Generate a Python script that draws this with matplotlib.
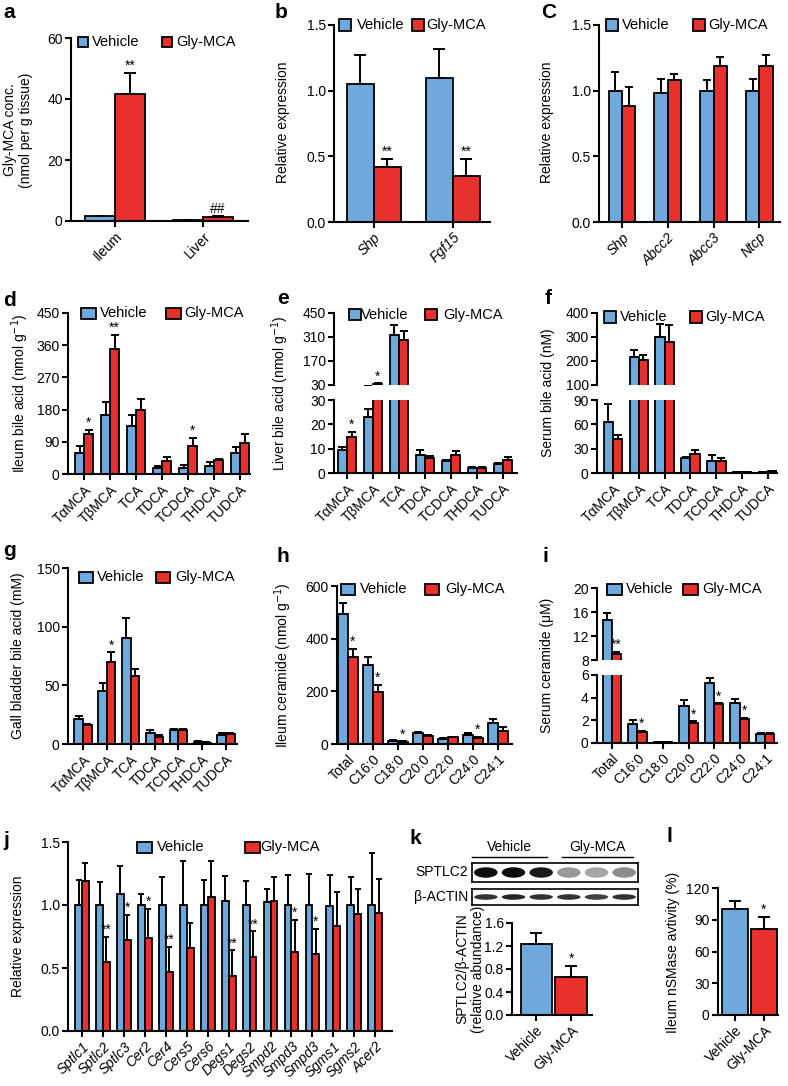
import numpy as np
import matplotlib.pyplot as plt
from matplotlib.patches import Rectangle, Ellipse

# ---------------- data ----------------
a_groups = ['Ileum', 'Liver']
a_veh = [1.5, 0.2]
a_veh_err = [0.3, 0.1]
a_gly = [41.5, 1.2]
a_gly_err = [7.0, 0.4]
a_sig = ['**', '##']

b_genes = ['Shp', 'Fgf15']
b_veh = [1.05, 1.10]
b_veh_err = [0.22, 0.22]
b_gly = [0.42, 0.35]
b_gly_err = [0.06, 0.13]
b_sig = ['**', '**']

c_genes = ['Shp', 'Abcc2', 'Abcc3', 'Ntcp']
c_veh = [1.0, 0.98, 1.0, 1.0]
c_veh_err = [0.14, 0.11, 0.08, 0.09]
c_gly = [0.88, 1.08, 1.19, 1.19]
c_gly_err = [0.15, 0.05, 0.07, 0.08]
c_sig = ['', '', '', '']

bile_acids = ['TαMCA', 'TβMCA', 'TCA', 'TDCA', 'TCDCA', 'THDCA', 'TUDCA']

d_veh = [60, 165, 135, 18, 18, 22, 60]
d_veh_err = [18, 35, 30, 5, 6, 12, 15]
d_gly = [113, 350, 178, 35, 78, 38, 87]
d_gly_err = [10, 38, 33, 12, 22, 4, 25]
d_sig = ['*', '**', '', '', '*', '', '']

e_veh = [9.5, 23, 320, 7.5, 5.0, 2.0, 3.5]
e_veh_err = [1.0, 3.5, 60, 1.8, 0.5, 0.3, 0.5]
e_gly = [15, 36, 290, 6.0, 7.5, 2.0, 5.3]
e_gly_err = [2.0, 4, 55, 1.0, 1.5, 0.3, 1.3]
e_sig = ['*', '*', '', '', '', '', '']

f_veh = [63, 215, 298, 18, 15, 1.0, 1.5]
f_veh_err = [22, 30, 55, 2, 7, 0.3, 0.3]
f_gly = [42, 205, 280, 23, 15, 1.0, 2.0]
f_gly_err = [5, 18, 70, 5, 4, 0.3, 0.3]
f_sig = ['', '', '', '', '', '', '']

g_veh = [21, 45, 90, 9, 12, 2, 8]
g_veh_err = [3, 7, 17, 3, 1, 0.5, 1]
g_gly = [16, 70, 58, 6, 12, 1, 8.5]
g_gly_err = [1, 8, 6, 2, 1, 0.3, 1]
g_sig = ['', '*', '', '', '', '', '']

ceramides = ['Total', 'C16:0', 'C18:0', 'C20:0', 'C22:0', 'C24:0', 'C24:1']

h_veh = [495, 300, 12, 42, 20, 35, 80]
h_veh_err = [40, 30, 2, 5, 2, 5, 15]
h_gly = [330, 198, 8, 32, 25, 22, 50]
h_gly_err = [30, 25, 2, 4, 3, 5, 15]
h_sig = ['*', '*', '*', '', '', '*', '']

i_veh = [14.6, 1.7, 0.1, 3.3, 5.3, 3.5, 0.8]
i_veh_err = [1.2, 0.3, 0.03, 0.5, 0.4, 0.4, 0.05]
i_gly = [9.0, 1.0, 0.05, 1.8, 3.4, 2.1, 0.8]
i_gly_err = [0.3, 0.1, 0.02, 0.1, 0.1, 0.1, 0.05]
i_sig = ['**', '*', '', '*', '*', '*', '']

j_genes = ['Sptlc1', 'Sptlc2', 'Sptlc3', 'Cer2', 'Cer4', 'Cers5', 'Cers6', 'Degs1',
           'Degs2', 'Smpd2', 'Smpd3', 'Smpd3', 'Sgms1', 'Sgms2', 'Acer2']
j_veh = [1.0, 1.0, 1.09, 1.0, 1.0, 1.0, 1.0, 1.03, 1.0, 1.02, 1.0, 1.0, 0.99, 1.0, 1.0]
j_veh_err = [0.2, 0.18, 0.22, 0.09, 0.22, 0.35, 0.2, 0.2, 0.19, 0.11, 0.24, 0.25, 0.25, 0.22, 0.41]
j_gly = [1.19, 0.55, 0.72, 0.74, 0.47, 0.66, 1.06, 0.44, 0.59, 1.03, 0.63, 0.61, 0.83, 0.93, 0.94]
j_gly_err = [0.14, 0.2, 0.2, 0.23, 0.2, 0.2, 0.29, 0.2, 0.2, 0.19, 0.25, 0.2, 0.27, 0.2, 0.27]
j_sig = ['', '**', '*', '*', '**', '', '', '**', '**', '', '*', '*', '', '', '']

k_groups = ['Vehicle', 'Gly-MCA']
k_vals = [1.23, 0.66]
k_err = [0.2, 0.2]
k_sig = ['', '*']
k_sptlc2 = [0.95, 0.95, 0.9, 0.4, 0.35, 0.45]
k_actin = [0.8, 0.85, 0.8, 0.8, 0.75, 0.8]

l_vals = [100, 81]
l_err = [8, 12]
l_sig = ['', '*']

# ---------------- style ----------------
plt.rcParams['font.family'] = ['Liberation Sans', 'DejaVu Sans']
plt.rcParams['font.size'] = 10
plt.rcParams['axes.linewidth'] = 1.5

W, H = 788, 1086
BLUE = '#6fa8dc'
RED = '#e8302c'
fig = plt.figure(figsize=(W / 100, H / 100), dpi=100)


def px_axes(x0, y0, x1, y1):
    return fig.add_axes([x0 / W, 1 - y1 / H, (x1 - x0) / W, (y1 - y0) / H])


def draw(ax, veh, veh_err, gly, gly_err, width, cap):
    x = np.arange(len(veh))
    z = np.zeros(len(veh))
    ek = dict(elinewidth=1.4, capsize=cap, capthick=1.4, ecolor='black')
    ax.bar(x - width / 2, veh, width, yerr=[z, veh_err], color=BLUE,
           edgecolor='black', linewidth=1.3, error_kw=ek)
    ax.bar(x + width / 2, gly, width, yerr=[z, gly_err], color=RED,
           edgecolor='black', linewidth=1.3, error_kw=ek)
    return x


def style(ax, labels, xlim, italic=False, xaxis=True):
    ax.set_xlim(*xlim)
    ax.spines[['top', 'right']].set_visible(False)
    ax.tick_params(direction='out', length=4, width=1.5, labelsize=10, pad=2)
    if xaxis:
        ax.set_xticks(np.arange(len(labels)))
        ax.set_xticklabels(labels, rotation=45, ha='right', rotation_mode='anchor',
                           style='italic' if italic else 'normal')
    else:
        ax.spines['bottom'].set_visible(False)
        ax.set_xticks([])


def mark(ax, x, top, text):
    if text:
        ax.annotate(text, (x, top), xytext=(0, 0), textcoords='offset points',
                    ha='center', va='bottom', fontsize=10)


def legend_px(xv, tv, xg, tg, yc, pw=12, ph=11):
    for xp, xt, col, lab in [(xv, tv, BLUE, 'Vehicle'), (xg, tg, RED, 'Gly-MCA')]:
        fig.add_artist(Rectangle((xp / W, 1 - (yc + ph / 2) / H), pw / W, ph / H,
                                 transform=fig.transFigure, facecolor=col,
                                 edgecolor='black', lw=1.3))
        fig.text(xt / W, 1 - yc / H, lab, ha='left', va='center', fontsize=10.5)


def ylab(x, y, text):
    fig.text(x / W, 1 - y / H, text, rotation=90, ha='center', va='center',
             fontsize=10, multialignment='center')


def letter(x, y, s):
    fig.text(x / W, 1 - y / H, s, fontweight='bold', fontsize=15, ha='left', va='center')


def simple(box, labels, xlim, ylim, yticks, veh, veh_err, gly, gly_err, sig,
           width, cap, italic=False):
    ax = px_axes(*box)
    x = draw(ax, veh, veh_err, gly, gly_err, width, cap)
    ax.set_ylim(*ylim)
    ax.set_yticks(yticks)
    style(ax, labels, xlim, italic)
    for xi, g, e, s in zip(x, gly, gly_err, sig):
        mark(ax, xi + width / 2, g + e, s)
    return ax


def broken(x0, x1, yt, ym1, ym2, yb, lo, lo_ticks, hi, hi_ticks, labels, xlim,
           veh, veh_err, gly, gly_err, sig, width, cap):
    ah = px_axes(x0, yt, x1, ym1)
    al = px_axes(x0, ym2, x1, yb)
    for ax, lim, ticks in [(ah, hi, hi_ticks), (al, lo, lo_ticks)]:
        x = draw(ax, veh, veh_err, gly, gly_err, width, cap)
        ax.set_ylim(*lim)
        ax.set_yticks(ticks)
    style(al, labels, xlim)
    style(ah, labels, xlim, xaxis=False)
    for xi, g, e, s in zip(x, gly, gly_err, sig):
        top = g + e
        mark(ah if top > lo[1] else al, xi + width / 2, top, s)
    return ah, al


# ---------------- row 1 ----------------
ax = simple((71, 38, 248, 221), a_groups, (-0.5, 1.51), (0, 60), [0, 20, 40, 60],
            a_veh, a_veh_err, a_gly, a_gly_err, a_sig, 0.34, 4.5)
letter(3, 13, 'a')
legend_px(78, 92, 162, 176, 42, pw=10, ph=10)
ylab(18, 130, 'Gly-MCA conc.\n(nmol per g tissue)')

ax = simple((334, 25, 490, 222), b_genes, (-0.5, 1.47), (0, 1.5), [0, 0.5, 1.0, 1.5],
            b_veh, b_veh_err, b_gly, b_gly_err, b_sig, 0.34, 4.5, italic=True)
ax.yaxis.set_major_formatter('{x:.1f}')
letter(275, 12, 'b')
legend_px(339, 357, 412, 426, 25)
ylab(283, 122, 'Relative expression')

ax = simple((599, 25, 780, 222), c_genes, (-0.5, 3.45), (0, 1.5), [0, 0.5, 1.0, 1.5],
            c_veh, c_veh_err, c_gly, c_gly_err, c_sig, 0.29, 3, italic=True)
ax.yaxis.set_major_formatter('{x:.1f}')
letter(541, 12, 'C')
legend_px(606, 622, 693, 708, 25)
ylab(547, 122, 'Relative expression')

# ---------------- row 2 ----------------
ax = simple((68, 313, 250, 474), bile_acids, (-0.62, 6.38), (0, 450),
            [0, 90, 180, 270, 360, 450],
            d_veh, d_veh_err, d_gly, d_gly_err, d_sig, 0.35, 3)
letter(3, 300, 'd')
legend_px(81, 100, 166, 184, 313, pw=15)
ylab(20, 393, 'Ileum bile acid (nmol g$^{-1}$)')

broken(334, 517, 313, 385, 400, 473, (0, 30), [0, 10, 20, 30], (30, 450),
       [30, 170, 310, 450], bile_acids, (-0.5, 6.54),
       e_veh, e_veh_err, e_gly, e_gly_err, e_sig, 0.36, 3)
letter(277, 298, 'e')
legend_px(349, 361, 425, 443, 315)
ylab(280, 393, 'Liver bile acid (nmol g$^{-1}$)')

broken(597, 777, 313, 385, 400, 473, (0, 90), [0, 30, 60, 90], (100, 400),
       [100, 200, 300, 400], bile_acids, (-0.62, 6.35),
       f_veh, f_veh_err, f_gly, f_gly_err, f_sig, 0.36, 3)
letter(545, 298, 'f')
legend_px(604, 620, 690, 705, 317)
ylab(548, 393, 'Serum bile acid (nM)')

# ---------------- row 3 ----------------
ax = simple((68, 568, 237, 744), bile_acids, (-0.63, 6.46), (0, 150), [0, 50, 100, 150],
            g_veh, g_veh_err, g_gly, g_gly_err, g_sig, 0.36, 3)
letter(3, 550, 'g')
legend_px(79, 97, 156, 175, 577, pw=14)
ylab(18, 656, 'Gall bladder bile acid (mM)')

ax = simple((337, 586, 512, 744), ceramides, (-0.44, 6.56), (0, 600), [0, 200, 400, 600],
            h_veh, h_veh_err, h_gly, h_gly_err, h_sig, 0.4, 3)
letter(277, 556, 'h')
legend_px(341, 360, 425, 445, 589, pw=14)
ylab(283, 665, 'Ileum ceramide (nmol g$^{-1}$)')

broken(597, 777, 588, 660, 675, 743, (0, 6), [0, 2, 4, 6], (8, 20),
       [8, 12, 16, 20], ceramides, (-0.58, 6.46),
       i_veh, i_veh_err, i_gly, i_gly_err, i_sig, 0.36, 3)
letter(542, 556, 'i')
legend_px(607, 626, 683, 702, 589, pw=15)
ylab(547, 665, 'Serum ceramide (μM)')

# ---------------- row 4 ----------------
ax = simple((68, 842, 392, 1031), j_genes, (-0.67, 14.8), (0, 1.5), [0, 0.5, 1.0, 1.5],
            j_veh, j_veh_err, j_gly, j_gly_err, j_sig, 0.33, 2.5, italic=True)
ax.yaxis.set_major_formatter('{x:.1f}')
letter(3, 840, 'j')
legend_px(137, 157, 245, 260, 847, pw=15)
ylab(18, 936, 'Relative expression')

# western blot
letter(410, 838, 'k')
for xs, xe, lab in [(472, 547, 'Vehicle'), (562, 633, 'Gly-MCA')]:
    fig.text((xs + xe) / 2 / W, 1 - 847 / H, lab, ha='center', va='center', fontsize=10)
    fig.add_artist(plt.Line2D([xs / W, xe / W], [1 - 857 / H, 1 - 857 / H], color='black', lw=1))
for (yt, yb), lab, inten, hgt in [((863, 882), 'SPTLC2', k_sptlc2, 0.55),
                                  ((889, 905), 'β-ACTIN', k_actin, 0.35)]:
    bx = px_axes(472, yt, 638, yb)
    bx.set_xlim(0, 6)
    bx.set_ylim(0, 1)
    bx.set_xticks([])
    bx.set_yticks([])
    for sp in bx.spines.values():
        sp.set_linewidth(1.2)
    for n, v in enumerate(inten):
        bx.add_patch(Ellipse((n + 0.5, 0.5), 0.85, hgt, color=str(1 - v), lw=0))
    fig.text(468 / W, 1 - (yt + yb) / 2 / H, lab, ha='right', va='center', fontsize=10)

ax = px_axes(512, 923, 592, 1015)
x = np.arange(2)
ax.bar(x, k_vals, 0.9, yerr=[np.zeros(2), k_err], color=[BLUE, RED], edgecolor='black',
       linewidth=1.3, error_kw=dict(elinewidth=1.4, capsize=4, capthick=1.4))
ax.set_ylim(0, 1.6)
ax.set_yticks([0, 0.4, 0.8, 1.2, 1.6])
ax.yaxis.set_major_formatter('{x:.1f}')
style(ax, k_groups, (-0.7, 1.6))
for xi, v, e, s in zip(x, k_vals, k_err, k_sig):
    mark(ax, xi, v + e, s)
ylab(470, 969, 'SPTLC2/β-ACTIN\n(relative abundance)')

letter(667, 837, 'l')
ax = px_axes(718, 888, 778, 1015)
ax.bar(x, l_vals, 0.9, yerr=[np.zeros(2), l_err], color=[BLUE, RED], edgecolor='black',
       linewidth=1.3, error_kw=dict(elinewidth=1.4, capsize=4, capthick=1.4))
ax.set_ylim(0, 120)
ax.set_yticks([0, 30, 60, 90, 120])
style(ax, k_groups, (-0.6, 1.5))
for xi, v, e, s in zip(x, l_vals, l_err, l_sig):
    mark(ax, xi, v + e, s)
ylab(673, 952, 'Ileum nSMase avtivity (%)')

fig.savefig('out.png', dpi=100)
